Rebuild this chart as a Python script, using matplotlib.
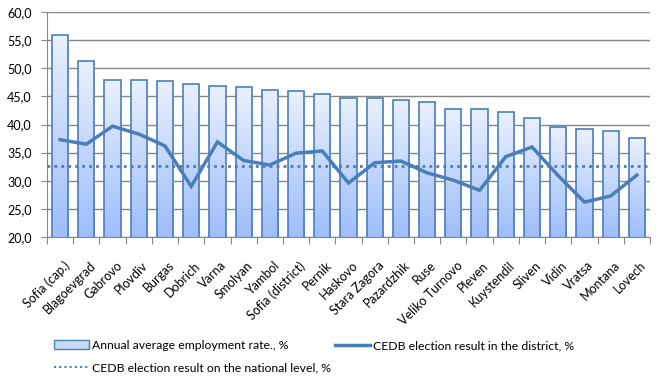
import numpy as np
import matplotlib
matplotlib.use("Agg")
import matplotlib.pyplot as plt
from matplotlib.patches import Patch
from matplotlib.lines import Line2D
from matplotlib.ticker import FuncFormatter, MultipleLocator
from matplotlib.colors import LinearSegmentedColormap
import matplotlib.transforms as mtransforms

plt.rcParams['font.family'] = ['Lato', 'DejaVu Sans']

districts = ["Sofia (cap.)", "Blagoevgrad", "Gabrovo", "Plovdiv", "Burgas", "Dobrich",
             "Varna", "Smolyan", "Yambol", "Sofia (district)", "Pernik", "Haskovo",
             "Stara Zagora", "Pazardzhik", "Ruse", "Veliko Turnovo", "Pleven",
             "Kuystendil", "Sliven", "Vidin", "Vratsa", "Montana", "Lovech"]
employment = [55.9, 51.3, 47.9, 47.9, 47.7, 47.2, 46.9, 46.7, 46.2, 46.0, 45.4, 44.7,
              44.7, 44.4, 44.0, 42.8, 42.8, 42.2, 41.2, 39.6, 39.2, 38.9, 37.6]
cedb_district = [37.3, 36.5, 39.7, 38.3, 36.2, 29.0, 36.9, 33.6, 32.8, 34.9, 35.3, 29.6,
                 33.2, 33.5, 31.4, 30.1, 28.3, 34.3, 36.0, 30.9, 26.2, 27.3, 31.0]
cedb_national = 32.6

fig = plt.figure(figsize=(6.63, 3.87), dpi=100)
ax = fig.add_axes([47/663, 1-237/387, (650-47)/663, (237-12)/387])

x = np.arange(len(districts))
bars = ax.bar(x, employment, width=0.62, bottom=0, color="none",
              edgecolor="#4A7EBB", linewidth=1.2, zorder=3)

cmap = LinearSegmentedColormap.from_list("g", ["#9DBDFB", "#EAF1FD"])
grad = np.linspace(0, 1, 256).reshape(-1, 1)
for b in bars:
    bx, by = b.get_x(), b.get_y()
    w, h = b.get_width(), b.get_height()
    im = ax.imshow(grad, extent=[bx, bx + w, 20, by + h], origin="lower",
                   cmap=cmap, aspect="auto", zorder=2)
    im.set_clip_path(b)

ax.plot(x, cedb_district, color="#4A7EBB", linewidth=2.5, zorder=5,
        solid_joinstyle="miter")
ax.plot([-0.5, len(districts)-0.5], [cedb_national]*2, color="#4A7EBB",
        linestyle=(0, (1, 1.5)), linewidth=2, zorder=4)

ax.set_xlim(-0.5, len(districts)-0.5)
ax.set_ylim(20, 60)
ax.yaxis.set_major_locator(MultipleLocator(5))
ax.yaxis.set_major_formatter(FuncFormatter(lambda v, p: f"{v:.1f}".replace(".", ",")))
ax.grid(axis="y", color="#868686", linewidth=1, zorder=0)
ax.set_axisbelow(True)

ax.set_xticks(np.arange(len(districts)+1) - 0.5)
ax.set_xticklabels([])
ax.set_xticks(x, minor=True)
ax.set_xticklabels(districts, minor=True, rotation=45, ha="right",
                   rotation_mode="anchor", fontsize=9)
ax.tick_params(axis="x", which="minor", length=0, pad=16)
ax.tick_params(axis="x", which="major", length=5, color="#868686", direction="out")
ax.tick_params(axis="y", length=4, color="#868686", labelsize=9, pad=7)
off = mtransforms.ScaledTranslation(3/100, 0, fig.dpi_scale_trans)
for lab in ax.get_xticklabels(minor=True):
    lab.set_transform(lab.get_transform() + off)

for s in ["top", "right"]:
    ax.spines[s].set_visible(False)
for s in ["left", "bottom"]:
    ax.spines[s].set_color("#868686")

handles = [Patch(facecolor="#C9DAF8", edgecolor="#4A7EBB", label="Annual average employment rate., %"),
           Line2D([], [], color="#4A7EBB", linestyle=(0, (1, 1.5)), linewidth=1.5,
                  label="CEDB election result on the national level, %"),
           Line2D([], [], color="#4A7EBB", linewidth=2.5, label="CEDB election result in the district, %")]
fig.legend(handles=handles, ncol=2, loc="upper left", bbox_to_anchor=(54/663, 1-340/387),
           frameon=False, fontsize=8.8, handlelength=2.9, handletextpad=0.25,
           columnspacing=0.25, labelspacing=0.95, borderaxespad=0, borderpad=0)

fig.savefig("out.png", dpi=100)
